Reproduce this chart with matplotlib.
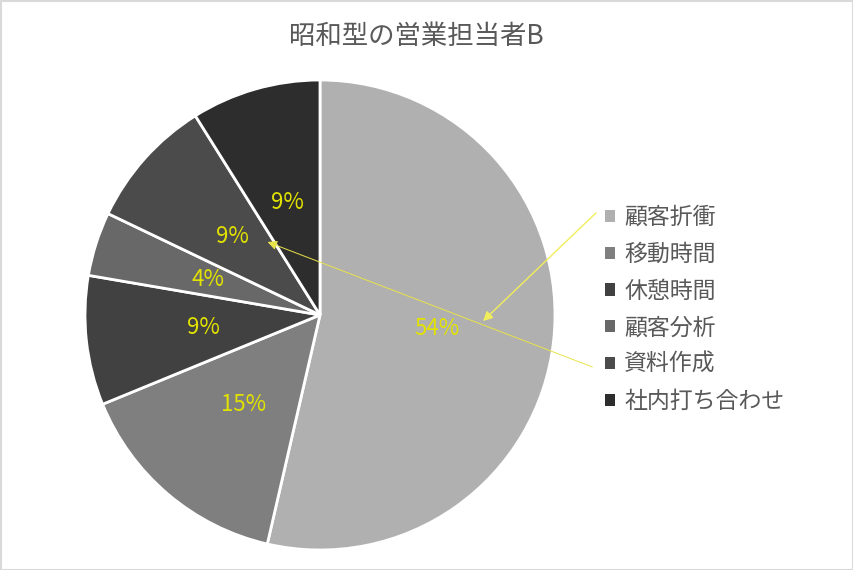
import matplotlib
matplotlib.use("Agg")
import matplotlib.pyplot as plt
from matplotlib.patches import Rectangle

plt.rcParams['font.family'] = ['Noto Sans CJK JP', 'DejaVu Sans']

title = "昭和型の営業担当者B"
categories = ["顧客折衝", "移動時間", "休憩時間", "顧客分析", "資料作成", "社内打ち合わせ"]
values = [53.6, 15.2, 8.9, 4.4, 9.0, 8.9]
colors = ["#b0b0b0", "#7f7f7f", "#414141", "#686868", "#4b4b4b", "#2d2d2d"]

W, H = 854, 570
fig = plt.figure(figsize=(W / 100, H / 100), dpi=100)
fig.patch.set_facecolor("white")

cx, cy, r = 320, 315, 235
ax = fig.add_axes([(cx - r) / W, (H - cy - r) / H, 2 * r / W, 2 * r / H])
wedges, texts, autotexts = ax.pie(
    values, colors=colors, startangle=90, counterclock=False,
    autopct=lambda p: f"{p:.0f}%", pctdistance=0.5,
    wedgeprops=dict(edgecolor="white", linewidth=2),
    textprops=dict(color="#e2e200", fontsize=16),
)
ax.set_xlim(-1.0, 1.0)
ax.set_ylim(-1.0, 1.0)
ax.set_aspect("equal")

fig.text(416 / W, 1 - 37 / H, title, ha="center", va="center", fontsize=19, color="#595959")

leg = fig.legend(wedges, categories, loc="upper left",
                 bbox_to_anchor=(596 / W, 1 - 197 / H), frameon=False,
                 fontsize=16.5, handlelength=0.44, handleheight=0.44,
                 handletextpad=0.4, labelspacing=0.6, borderaxespad=0)
for t in leg.get_texts():
    t.set_color("#595959")
for p in leg.get_patches():
    p.set_edgecolor("none")

# yellow annotation arrows (figure pixels)
def fp(x, y):
    return (x, H - y)

fig.add_artist(plt.Annotation("", xy=fp(481, 323), xytext=fp(598, 211),
                              xycoords="figure pixels", textcoords="figure pixels",
                              arrowprops=dict(arrowstyle="-|>", color="#f2ee5a", lw=1.0,
                                              mutation_scale=14)))
fig.add_artist(plt.Annotation("", xy=fp(265, 241), xytext=fp(595, 368),
                              xycoords="figure pixels", textcoords="figure pixels",
                              arrowprops=dict(arrowstyle="-|>", color="#e8e34a", lw=0.7,
                                              mutation_scale=14)))

fig.add_artist(Rectangle((0.5 / W, 0.5 / H), 1 - 1.5 / W, 1 - 1.5 / H, transform=fig.transFigure,
                         fill=False, edgecolor="#d9d9d9", linewidth=1.5))

fig.savefig("out.png", dpi=100)
